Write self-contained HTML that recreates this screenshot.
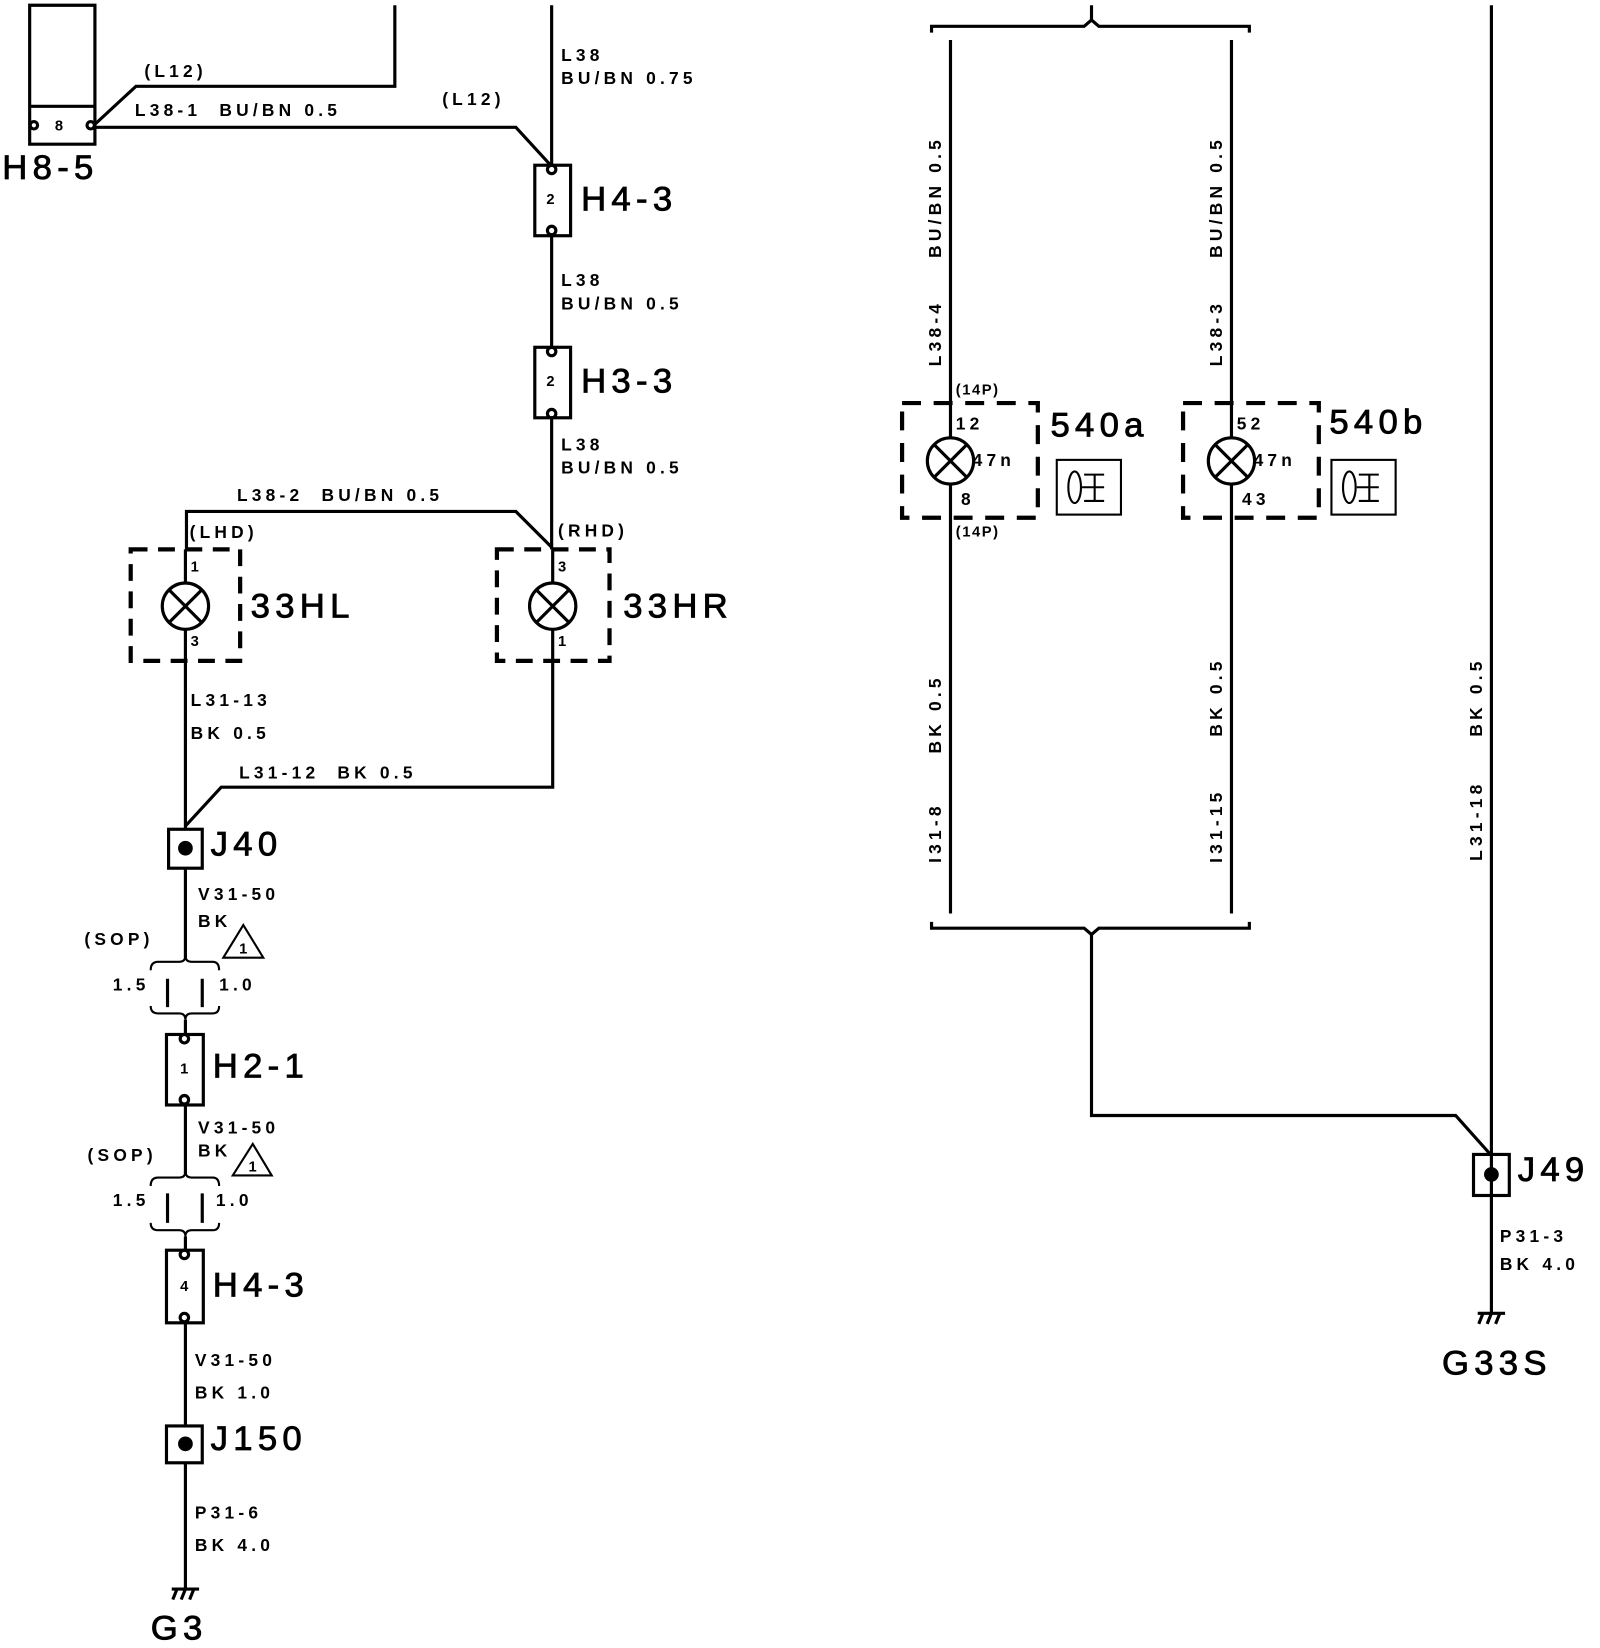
<!DOCTYPE html>
<html><head><meta charset="utf-8"><style>
html,body{margin:0;padding:0;background:#fff}
svg{display:block}
text{font-family:"Liberation Sans",Arial,sans-serif;fill:#000}
.s{font-size:16.5px;font-weight:bold;letter-spacing:4px}
.xs{font-size:14px;font-weight:bold;letter-spacing:1.5px}
.b{font-size:33px;letter-spacing:5px;stroke:#000;stroke-width:0.8px}
</style></head><body>
<svg width="1600" height="1648" viewBox="0 0 1520 1566" xmlns="http://www.w3.org/2000/svg">
<g fill="none" stroke="#000" stroke-width="3">
<path d="M28 12 V5 H90 V12 M28 5 V137 H90 V5 M28 101 H90"/>
<circle cx="32" cy="119" r="3.5"/><circle cx="86" cy="119" r="3.5"/>
<path d="M375 5 V82 H129 L89 119"/>
<path d="M89 121 H490 L524 158"/>
<path d="M524 5 V158"/>
<rect x="508" y="157" width="34" height="67"/>
<circle cx="524" cy="161" r="4"/><circle cx="524" cy="219" r="4"/>
<path d="M524 224 V330"/>
<rect x="508" y="330" width="34" height="67"/>
<circle cx="524" cy="334" r="4"/><circle cx="524" cy="393" r="4"/>
<path d="M524 397 V522"/>
<path d="M177 522 V486 H490 L524 520"/>
<rect x="124" y="522" width="104" height="106" stroke-width="4" stroke-dasharray="16,10"/>
<rect x="472" y="522" width="107" height="106" stroke-width="4" stroke-dasharray="16,10"/>
<circle cx="176" cy="576" r="22"/><path d="M160.5 560.5 L191.5 591.5 M191.5 560.5 L160.5 591.5"/>
<circle cx="525" cy="576" r="22"/><path d="M509.5 560.5 L540.5 591.5 M540.5 560.5 L509.5 591.5"/>
<path d="M176 522 V554 M176 598 V788"/>
<path d="M525 522 V554 M525 598 V748 H210 L176 785"/>
<rect x="160" y="788" width="32" height="37"/>
<path d="M176 825 V912"/>
<path d="M212 910 L231 879 L250 910 Z" stroke-width="2"/>
<path d="M143 922 Q143 914 150 914 H170 Q176 914 176 908 Q176 914 182 914 H202 Q208 914 208 922" stroke-width="2"/>
<path d="M159 930 V957 M192 930 V957"/>
<path d="M143 956 Q143 963 150 963 H170 Q176 963 176 969 Q176 963 182 963 H202 Q208 963 208 956" stroke-width="2"/>
<path d="M176 969 V983"/>
<rect x="158" y="983" width="35" height="67"/>
<circle cx="175" cy="987" r="4"/><circle cx="175" cy="1045" r="4"/>
<path d="M176 1050 V1117"/>
<path d="M221 1117 L240 1087 L258 1117 Z" stroke-width="2"/>
<path d="M143 1127 Q143 1119 150 1119 H170 Q176 1119 176 1113 Q176 1119 182 1119 H202 Q208 1119 208 1127" stroke-width="2"/>
<path d="M159 1134 V1162 M192 1134 V1162"/>
<path d="M143 1162 Q143 1169 150 1169 H170 Q176 1169 176 1175 Q176 1169 182 1169 H202 Q208 1169 208 1162" stroke-width="2"/>
<path d="M176 1175 V1188"/>
<rect x="158" y="1188" width="35" height="69"/>
<circle cx="175" cy="1192" r="4"/><circle cx="175" cy="1252" r="4"/>
<path d="M176 1257 V1355"/>
<rect x="158" y="1355" width="34" height="35"/>
<path d="M176 1390 V1510 M163 1510 H189 M168 1510 L164 1520 M176 1510 L172 1520 M184 1510 L180 1520"/>
<path d="M885 31 V25 H1030 L1037 19 V5 M1037 19 L1044 25 H1187 V31"/>
<path d="M903 38 V416 M903 460 V868 M1170 38 V416 M1170 460 V868"/>
<rect x="857" y="383" width="129" height="109" stroke-width="4" stroke-dasharray="18,12"/>
<rect x="1124" y="383" width="129" height="109" stroke-width="4" stroke-dasharray="18,12"/>
<circle cx="903" cy="438" r="22"/><path d="M887.5 422.5 L918.5 453.5 M918.5 422.5 L887.5 453.5"/>
<circle cx="1170" cy="438" r="22"/><path d="M1154.5 422.5 L1185.5 453.5 M1185.5 422.5 L1154.5 453.5"/>
<rect x="1004" y="437" width="61" height="52" stroke-width="2"/>
<rect x="1265" y="437" width="61" height="52" stroke-width="2"/>
<ellipse cx="1021" cy="463" rx="6" ry="15" stroke-width="2"/>
<path d="M1030 451 H1049 M1040 451 V476 M1030 476 H1049 M1028 463 H1049" stroke-width="2"/>
<ellipse cx="1282" cy="463" rx="6" ry="15" stroke-width="2"/>
<path d="M1291 451 H1310 M1301 451 V476 M1291 476 H1310 M1289 463 H1310" stroke-width="2"/>
<path d="M885 876 V882 H1030 L1037 888 L1044 882 H1187 V876"/>
<path d="M1037 888 V1060 H1383 L1417 1098"/>
<path d="M1417 5 V1248"/>
<rect x="1400" y="1097" width="34" height="39"/>
<path d="M1404 1248 H1430 M1409 1248 L1405 1258 M1417 1248 L1413 1258 M1425 1248 L1421 1258"/>
</g>
<g fill="#000">
<circle cx="176" cy="806" r="7"/><circle cx="176" cy="1372" r="7"/><circle cx="1417" cy="1116" r="7"/>
</g>
<text class="xs" x="52" y="124">8</text>
<text class="b" x="2" y="170">H8-5</text>
<text class="s" x="137" y="73">(L12)</text>
<text class="s" x="420" y="100">(L12)</text>
<text class="s" x="128" y="110">L38-1&#160;&#160;BU/BN&#160;0.5</text>
<text class="s" x="533" y="58">L38</text>
<text class="s" x="533" y="80">BU/BN&#160;0.75</text>
<text class="xs" x="519" y="194">2</text>
<text class="b" x="552" y="200">H4-3</text>
<text class="s" x="533" y="272">L38</text>
<text class="s" x="533" y="294">BU/BN&#160;0.5</text>
<text class="xs" x="519" y="367">2</text>
<text class="b" x="552" y="373">H3-3</text>
<text class="s" x="533" y="428">L38</text>
<text class="s" x="533" y="450">BU/BN&#160;0.5</text>
<text class="s" x="225" y="476">L38-2&#160;&#160;BU/BN&#160;0.5</text>
<text class="s" x="180" y="511">(LHD)</text>
<text class="s" x="530" y="510">(RHD)</text>
<text class="xs" x="181" y="543">1</text>
<text class="xs" x="181" y="614">3</text>
<text class="xs" x="530" y="543">3</text>
<text class="xs" x="530" y="614">1</text>
<text class="b" x="238" y="587">33HL</text>
<text class="b" x="592" y="587">33HR</text>
<text class="s" x="181" y="671">L31-13</text>
<text class="s" x="181" y="702">BK&#160;0.5</text>
<text class="s" x="227" y="740">L31-12&#160;&#160;BK&#160;0.5</text>
<text class="b" x="200" y="813">J40</text>
<text class="s" x="188" y="855">V31-50</text>
<text class="s" x="188" y="881">BK</text>
<text class="xs" x="227" y="906">1</text>
<text class="s" x="80" y="898">(SOP)</text>
<text class="s" x="107" y="941">1.5</text>
<text class="s" x="208" y="941">1.0</text>
<text class="xs" x="171" y="1020">1</text>
<text class="b" x="202" y="1024">H2-1</text>
<text class="s" x="188" y="1077">V31-50</text>
<text class="s" x="188" y="1099">BK</text>
<text class="xs" x="236" y="1113">1</text>
<text class="s" x="83" y="1103">(SOP)</text>
<text class="s" x="107" y="1146">1.5</text>
<text class="s" x="205" y="1146">1.0</text>
<text class="xs" x="171" y="1227">4</text>
<text class="b" x="202" y="1232">H4-3</text>
<text class="s" x="185" y="1298">V31-50</text>
<text class="s" x="185" y="1329">BK&#160;1.0</text>
<text class="b" x="200" y="1378">J150</text>
<text class="s" x="185" y="1443">P31-6</text>
<text class="s" x="185" y="1474">BK&#160;4.0</text>
<text class="b" x="143" y="1558">G3</text>
<g class="s">
<text transform="translate(894,348) rotate(-90)">L38-4</text>
<text transform="translate(894,245) rotate(-90)">BU/BN&#160;0.5</text>
<text transform="translate(894,716) rotate(-90)">BK&#160;0.5</text>
<text transform="translate(894,820) rotate(-90)">I31-8</text>
<text transform="translate(1161,348) rotate(-90)">L38-3</text>
<text transform="translate(1161,245) rotate(-90)">BU/BN&#160;0.5</text>
<text transform="translate(1161,700) rotate(-90)">BK&#160;0.5</text>
<text transform="translate(1161,820) rotate(-90)">I31-15</text>
<text transform="translate(1408,700) rotate(-90)">BK&#160;0.5</text>
<text transform="translate(1408,818) rotate(-90)">L31-18</text>
</g>
<text class="xs" x="908" y="375">(14P)</text>
<text class="xs" x="908" y="510">(14P)</text>
<text class="s" x="908" y="408">12</text>
<text class="s" x="924" y="443">47n</text>
<text class="s" x="913" y="480">8</text>
<text class="b" x="998" y="415">540a</text>
<text class="s" x="1175" y="408">52</text>
<text class="s" x="1191" y="443">47n</text>
<text class="s" x="1180" y="480">43</text>
<text class="b" x="1263" y="412">540b</text>
<text class="b" x="1442" y="1122">J49</text>
<text class="s" x="1425" y="1180">P31-3</text>
<text class="s" x="1425" y="1207">BK&#160;4.0</text>
<text class="b" x="1370" y="1306">G33S</text>
</svg>
</body></html>
